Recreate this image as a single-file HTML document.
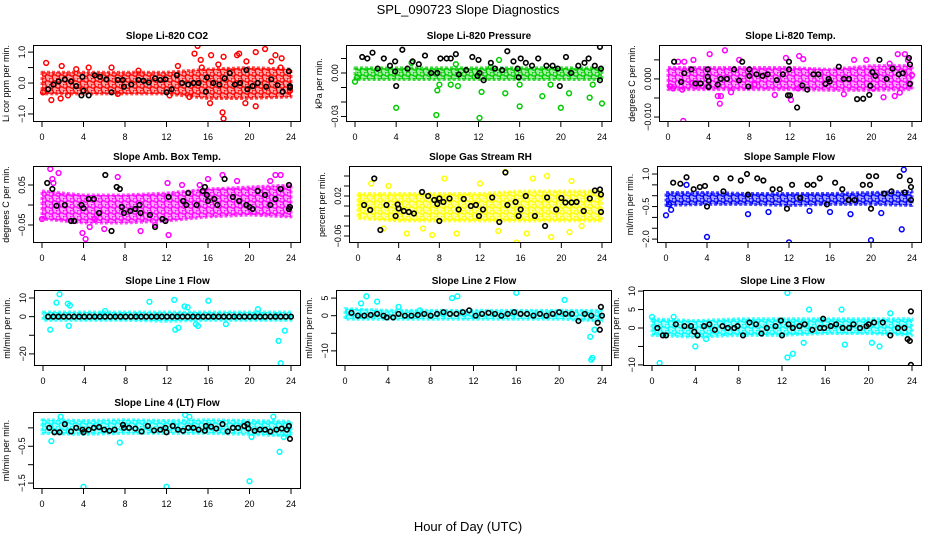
<!DOCTYPE html>
<html><head><meta charset="utf-8">
<style>
html,body{margin:0;padding:0;background:#fff;}
svg{display:block;font-family:"Liberation Sans",sans-serif;}
</style></head>
<body>
<svg id="chart" width="936" height="540" viewBox="0 0 936 540">
<defs id="defs"></defs>
<text x="468" y="14" text-anchor="middle" font-size="13">SPL_090723  Slope Diagnostics</text>
<text x="468" y="531" text-anchor="middle" font-size="13">Hour of Day (UTC)</text>
</svg>
<script>
const xTicks = [0,4,8,12,16,20,24];
const bandHours = [0,4,8,12,16,20,24];

const co2Band = [[-0.35,0.35],[-0.35,0.35],[-0.35,0.35],[-0.35,0.35],[-0.5,0.45],[-0.5,0.5],[-0.45,0.45]];
const co2Out = [[0.4,0.65],[0.9,-0.55],[1.8,-0.5],[1.9,0.55],[3.3,0.45],[4.5,0.5],[6.7,0.5],[9.3,0.4],[13.1,0.55],[14.2,-0.45],[14.7,0.95],[15,1.2],[15.3,0.75],[15.4,0.5],[16.2,-0.65],[16.3,0.9],[17,0.6],[17.4,-0.95],[17.5,-1.15],[17.5,0.85],[18.8,0.9],[19,0.95],[19.6,-0.65],[19.7,0.7],[20.6,-0.75],[20.6,1.0],[21.5,1.1],[22.1,0.7],[22.5,0.9],[23.1,0.8],[23,0.5],[23.9,-0.25],[12.3,-0.4],[7.3,-0.35],[2.5,-0.4],[0.1,-0.3]];
const co2Blk = [[0.6,-0.2],[1.1,-0.05],[1.6,0.05],[2.2,0.12],[2.8,0.05],[3.3,-0.1],[3.8,-0.4],[3.9,0.2],[4,-0.25],[4.5,-0.4],[5.1,0.25],[5.6,0.2],[6.2,0.12],[6.7,-0.3],[7.3,0.1],[7.8,0.1],[7.9,-0.12],[8.6,-0.05],[9.3,0.1],[9.8,0.07],[10.3,0.02],[10.9,0.15],[11.4,0.1],[11.9,0.12],[12,-0.3],[12.5,-0.2],[13,0.25],[13.5,0],[14.1,-0.05],[14.6,0],[15.1,0],[15.8,-0.28],[15.9,0.18],[16.5,0],[17.1,-0.05],[17.6,0.15],[18.1,0.32],[18.6,-0.05],[19.1,0],[19.7,0.42],[19.8,-0.2],[20.3,-0.1],[20.8,0],[21.6,-0.12],[22.1,0.12],[22.7,-0.07],[23.2,-0.28],[23.8,0.38],[23.9,-0.1],[23.9,-0.15]];

const presBand = [[-0.0045,0.0035],[-0.0045,0.0035],[-0.0045,0.0035],[-0.0045,0.0035],[-0.0045,0.0035],[-0.0045,0.0035],[-0.0045,0.0035]];
const presOut = [[0,-0.006],[0.2,-0.003],[4,-0.024],[7.9,-0.029],[8,-0.012],[8.2,-0.008],[9.3,-0.008],[10,-0.009],[12.1,-0.031],[12.3,-0.013],[14.6,-0.014],[16,-0.023],[16,-0.008],[18.2,-0.016],[19,-0.008],[20,-0.024],[20.8,-0.014],[22.8,-0.017],[23.1,-0.008],[24,-0.021],[5.5,0.007],[9.8,0.006],[14,0.009],[13.2,0.004]];
const presBlk = [[0.7,0.011],[1.2,0.01],[1.7,0.014],[2.2,0.003],[2.8,0.01],[3.4,0.005],[3.9,0.008],[3.9,0.001],[4,-0.009],[4.6,0.016],[5.1,0.003],[5.6,0.008],[6.2,0.006],[6.8,0.012],[7.4,0],[8,0],[8.3,0.01],[8.9,0.01],[9.3,0.01],[9.8,0.013],[10.1,-0.001],[10.8,0.002],[11.4,0.011],[11.9,-0.002],[12,0.009],[12.1,0],[12.5,-0.005],[13.2,0.007],[13.6,0.003],[14.3,0.002],[14.8,0.015],[15.4,0.008],[15.8,0.003],[15.9,-0.003],[16.1,0.01],[16.6,0.007],[17.2,0.005],[17.8,0.01],[18.6,0.005],[19.2,0.005],[19.7,0.003],[19.9,-0.009],[20.5,0.011],[21,0],[21.7,0.005],[22.3,0.007],[22.7,0.01],[23.3,0.005],[23.8,0.018],[23.8,-0.005],[23.9,0.003]];

const tempBand = [[-0.0028,0.003],[-0.0028,0.003],[-0.0028,0.003],[-0.0028,0.003],[-0.003,0.0025],[-0.003,0.0035],[-0.0028,0.0035]];
const tempOut = [[0.2,-0.002],[0.5,-0.0025],[1,0.0045],[1.4,-0.0028],[1.5,-0.011],[1.6,0.0045],[2.4,-0.001],[2.5,0.005],[3.9,-0.002],[4.1,0.0065],[4.9,-0.0045],[5.2,-0.0045],[5.1,-0.0065],[5.6,0.0075],[6.2,-0.0035],[7,0.005],[8.5,-0.0015],[10.5,-0.0042],[11.6,0.0055],[12.1,-0.0055],[12.8,-0.0025],[12.9,0.006],[13.3,0.0052],[17.3,-0.004],[18.3,0.005],[19.5,0.005],[20.2,-0.0025],[21.2,-0.0048],[21.8,0.004],[22.3,-0.0045],[22.6,0.0065],[22.8,-0.0036],[23.3,0.0065],[23.6,0.005],[24,0.001]];
const tempBlk = [[0.6,0.0045],[1.3,-0.0008],[1.6,0.0015],[2.3,0.0025],[2.7,-0.0012],[3.2,-0.0012],[3.9,0.0025],[3.9,0.0006],[4,-0.0005],[4,-0.0021],[4.9,-0.0015],[5.2,0],[5.8,0],[6.5,0.0025],[7,-0.0004],[7.3,0.0045],[7.9,-0.002],[8,0.0025],[8,0.0008],[8.7,0.0012],[9.3,0.0008],[9.8,0.0012],[10.7,-0.0003],[11.3,0.0012],[11.9,0.0045],[11.9,0.0025],[11.8,-0.0043],[12,-0.0043],[12.7,-0.0075],[13.2,-0.0017],[13.7,-0.0028],[14.3,0.0012],[14.8,0.0012],[15.5,-0.0013],[15.8,0],[15.9,-0.0007],[16.8,0.0032],[17.3,0],[17.8,0],[18.6,-0.0053],[19.2,-0.0052],[19.8,-0.0042],[19.9,-0.0018],[20.1,0.0018],[20.4,0.0008],[20.8,0.005],[21.5,0],[22.1,0.0027],[22.7,0.0012],[23.1,0.0015],[23.7,0.0055],[23.8,0.0038],[23.8,-0.0013]];

const ambBand = [[-0.035,0.035],[-0.045,0.025],[-0.045,0.025],[-0.04,0.03],[-0.03,0.04],[-0.025,0.045],[-0.03,0.05]];
const ambOut = [[0,-0.035],[0.8,0.09],[1,0.065],[1.1,0.055],[1.6,0.08],[3.9,-0.07],[4.2,-0.085],[4.6,-0.055],[6,-0.06],[7.3,0.07],[9.5,-0.065],[10.9,-0.05],[12.2,-0.075],[12.1,0.055],[15.2,0.05],[16,0.065],[17.4,0.075],[18.8,0.06],[22,0.06],[22.5,0.075],[23,0.075],[5.1,-0.035],[13.5,0.05]];
const ambBlk = [[0.5,0.055],[1,0.04],[1.4,-0.002],[2.2,0],[2.8,-0.04],[3.1,-0.04],[3.8,0],[4,-0.008],[4.5,0.015],[5,0.015],[5.5,-0.02],[6.1,0.075],[6.7,-0.065],[7.2,0.045],[7.5,0.04],[7.7,-0.005],[7.9,-0.02],[8.5,-0.015],[9,-0.01],[9.4,0],[9.5,-0.02],[10.4,-0.025],[10.9,-0.055],[11.6,-0.035],[11.9,-0.04],[12.2,0.02],[13.6,0.01],[13.9,0],[14.1,0.03],[14.9,0],[15.5,0.035],[15.7,0.045],[15.9,0.025],[16,0.01],[16.6,0.015],[16.9,0],[17.6,0.065],[18.4,0.02],[19,0.01],[19.7,0],[20,-0.005],[20.3,-0.01],[20.8,0.035],[21.5,0.025],[22,0],[22.5,0.015],[23,0.04],[23.8,0.05],[23.8,-0.01],[23.9,-0.005]];

const rhBand = [[-0.025,0.025],[-0.03,0.025],[-0.03,0.025],[-0.03,0.025],[-0.03,0.03],[-0.03,0.03],[-0.03,0.03]];
const rhOut = [[14.5,0.068],[15.6,-0.073],[13.8,-0.05],[1.3,0.045],[18.6,0.06],[17.2,0.055],[8.5,0.055],[4.8,-0.055],[9.7,-0.055],[20.8,-0.052],[22,-0.04],[6.4,-0.045],[16.6,-0.055],[2.5,-0.045],[7.3,-0.058],[21,0.05],[19,-0.062],[12,0.045],[3,0.04]];
const rhBlk = [[0.6,0.002],[1.2,-0.008],[1.6,0.055],[2.2,-0.048],[2.8,0.002],[3.7,-0.02],[3.9,0.003],[4,-0.005],[4.5,-0.01],[5,-0.012],[5.5,-0.015],[6.3,0.028],[6.9,0.02],[7.5,0.012],[7.8,0.004],[8,-0.03],[8,0.015],[8.4,0.008],[9,0.015],[9.9,-0.007],[10.4,0.014],[11.1,0],[11.6,0.002],[11.9,-0.02],[12.3,-0.007],[13.2,0.017],[13.9,-0.032],[14.5,0.067],[14.7,0.002],[15.5,0.008],[15.8,-0.02],[16,-0.007],[16.5,0.02],[17.4,-0.02],[18.4,-0.04],[18.6,0.017],[19.5,-0.007],[20,0.016],[20.4,0.007],[21,0.007],[21.5,0.008],[22.2,-0.01],[22.8,0.015],[23.3,0.031],[23.8,0.033],[23.9,0.023],[23.9,-0.012]];

const sfBand = [[-0.45,0.15],[-0.4,0.15],[-0.4,0.1],[-0.45,0.1],[-0.4,0.1],[-0.4,0.15],[-0.45,0.2]];
const sfOut = [[0,-0.9],[0.5,-0.65],[4,-1.9],[8,-0.85],[10,-0.75],[12,-2.15],[14,-0.7],[16,-0.75],[18,-0.85],[20,-2.05],[21,-0.8],[23,-1.55],[23.2,1.2],[2,0.5],[0.3,-0.4]];
const sfBlk = [[0.7,0.6],[1.4,0.55],[2,0.85],[2.7,0.3],[3.3,0.4],[3.8,0.45],[4,-0.5],[4.9,0.8],[5.6,0.2],[6.3,0.8],[7.3,0.7],[8,0.05],[7.9,1.0],[8.9,0.8],[9.5,0.7],[10.4,0.3],[11.1,0.3],[11.8,-0.6],[12.3,0.5],[13.1,-0.1],[13.8,0.5],[14.4,0.5],[15,0.8],[15.7,-0.4],[16.5,0.6],[17.2,0.3],[17.8,-0.2],[18.4,-0.2],[19.2,0.5],[19.8,0.9],[19.9,0.5],[20,-0.6],[20.5,0.9],[21.3,0.1],[22,0.2],[22.8,0.9],[23.3,0.15],[23.8,0.7],[23.9,0.4],[23.9,-0.2]];

const l1Band = [[-2,2.5],[-2,2.5],[-2,2.5],[-2.5,2.5],[-2,2.5],[-2,2.5],[-2,2.5]];
const l1Out = [[1.6,12],[2.5,-5],[1.3,7.5],[2.4,7],[2.6,6],[10.3,8],[12.7,9],[12.8,-7],[13.1,-6],[13.7,5.5],[14,5],[14.8,-4],[16,8.5],[20.8,4],[22.8,-13],[23,-25],[23.4,-7.5],[0.7,-7],[6,3],[15,-5],[17.7,-4]];
const l1Blk = [[0.5,0],[1,0],[1.5,0],[2,0],[2.5,0],[3,0],[3.5,0],[4,0],[4.5,0],[5,0],[5.5,0],[6,0],[6.5,0],[7,0],[7.5,0],[8,0],[8.5,0],[9,0],[9.5,0],[10,0],[10.5,0],[11,0],[11.5,0],[12,0],[12.5,0],[13,0],[13.5,0],[14,0],[14.5,0],[15,0],[15.5,0],[16,0],[16.5,0],[17,0],[17.5,0],[18,0],[18.5,0],[19,0],[19.5,0],[20,0],[20.5,0],[21,0],[21.5,0],[22,0],[22.5,0],[23,0],[23.5,0],[24,0]];

const l2Band = [[-1,2],[-1,1.5],[-1,1.5],[-1,1.5],[-1,1.5],[-1,1.5],[-1.5,1.5]];
const l2Out = [[1.5,3.5],[2,5.5],[3,4],[10,5],[10.5,5.5],[16,6.5],[20.5,4.5],[22.9,-6],[23,-12.5],[23.1,-12],[23.3,-4],[5,2.5],[7,1.5]];
const l2Blk = [[0.6,0.8],[1.2,0],[1.8,0],[2.4,0.2],[3,0.5],[3.6,0],[3.9,-0.5],[4.5,-0.5],[5,0.5],[5.6,0],[6.2,0],[6.8,0.2],[7.4,0.5],[8,0],[8.6,0.5],[9.2,1],[9.8,0.5],[10.4,0.5],[11,1],[11.6,1.5],[12.2,0],[12.8,0.5],[13.4,0.8],[14,0.5],[14.6,0],[15.2,0.5],[15.8,1],[16.4,0.5],[17,0.5],[17.6,0],[18.2,0.5],[18.8,0],[19.4,0.5],[20,1],[20.6,0.5],[21.2,0.5],[21.8,-1.5],[22.4,0.5],[23,0],[23.6,-2],[23.8,-4],[23.9,2.5],[24,0]];

const l3Band = [[-2,2.5],[-2.5,2],[-2,2.5],[-2,2.5],[-1.5,2.5],[-1.5,2.5],[-2,2.5]];
const l3Out = [[0.7,-9.5],[4,-5],[5,-3],[12.5,9.5],[12.5,-8],[13,-7],[14.5,5],[14,-4],[17.5,5],[17.8,-4.5],[20.3,-4],[21,-5],[22,4],[0,3],[2,3]];
const l3Blk = [[0.5,0],[1,-2],[1.3,-2],[2.2,1],[3,0.5],[3.6,0.5],[3.9,-1],[4.2,-2],[4.8,0.5],[5.3,1],[5.8,-0.5],[6.5,0.5],[7,0],[7.6,0],[7.9,0.5],[8.4,-2],[9,1.5],[9.6,1],[10.1,-1.5],[10.6,0],[11.4,0.5],[11.9,2],[12,-2],[12.6,1],[13,0],[13.6,0.5],[14.1,1],[14.8,-0.5],[15.5,0],[15.8,2.5],[15.9,0],[16.5,0.5],[17,1],[17.6,0],[18.2,0],[18.6,1],[19.2,0],[19.8,0.5],[20,1],[20.5,1.5],[21.3,1.5],[22,-2],[22.7,0],[23.3,0],[23.6,-3],[23.8,-3.5],[23.9,-10],[23.9,4.5]];

const l4Band = [[-0.15,0.22],[-0.18,0.2],[-0.15,0.22],[-0.15,0.2],[-0.15,0.22],[-0.18,0.2],[-0.22,0.18]];
const l4Out = [[0.9,-0.36],[4,-1.6],[7.5,-0.4],[12,-1.6],[20,-1.45],[20.2,-0.25],[22.9,-0.65],[22.3,0.3],[14.2,0.3],[13.8,0.35],[1.8,0.3],[23.3,-0.25]];
const l4Blk = [[0.7,0],[1.2,-0.12],[1.7,-0.12],[2.2,0.1],[2.8,-0.1],[3.3,0],[3.9,-0.05],[4,-0.12],[4.5,-0.05],[5,0],[5.5,0.02],[6,-0.05],[6.5,-0.08],[7,-0.05],[7.8,0.08],[7.9,0],[8.4,0],[9,-0.02],[9.6,-0.1],[10.2,0.05],[10.8,-0.07],[11.4,-0.05],[11.9,0],[12,-0.12],[12.6,0.05],[13.1,-0.05],[13.6,-0.08],[14.1,0],[14.6,0],[15.1,-0.05],[15.7,-0.08],[15.8,0.05],[16.3,0.03],[16.8,-0.02],[17.4,0.1],[17.9,-0.1],[18.4,0],[18.9,0],[19.5,0.05],[19.8,0.1],[19.9,-0.02],[20.5,-0.08],[21,-0.05],[21.5,-0.05],[22,-0.1],[22.6,-0.05],[23.1,-0.02],[23.6,-0.05],[23.8,0.05],[23.9,-0.3]];

const panels = [
 {name:'co2',title:'Slope Li-820 CO2',ylab:'Li cor ppm per min.',color:'#ff0000',L:33,R:301,T:45,B:122,ymin:-1.26,ymax:1.23,ticks:[-1,-0.5,0,0.5,1],labs:{'-1':'\u22121.0','0':'0.0','1':'1.0'},band:co2Band,out:co2Out,blk:co2Blk},
 {name:'pressure',title:'Slope Li-820 Pressure',ylab:'kPa per min.',color:'#00cc00',L:346,R:612,T:45,B:122,ymin:-0.0338,ymax:0.0193,ticks:[-0.03,-0.02,-0.01,0,0.01],labs:{'-0.03':'\u22120.03','0':'0.00'},band:presBand,out:presOut,blk:presBlk},
 {name:'temp',title:'Slope Li-820 Temp.',ylab:'degrees C per min.',color:'#ff00ff',L:659,R:922,T:45,B:122,ymin:-0.0113,ymax:0.0089,ticks:[-0.01,-0.005,0,0.005],labs:{'-0.01':'\u22120.010','0':'0.000'},band:tempBand,out:tempOut,blk:tempBlk},
 {name:'amb-box-temp',title:'Slope Amb. Box Temp.',ylab:'degrees C per min.',color:'#ff00ff',L:33,R:301,T:166,B:243,ymin:-0.095,ymax:0.0975,ticks:[-0.05,0,0.05],labs:{'-0.05':'\u22120.05','0.05':'0.05'},band:ambBand,out:ambOut,blk:ambBlk},
 {name:'gas-stream-rh',title:'Slope Gas Stream RH',ylab:'percent per min.',color:'#ffff00',L:349,R:612,T:166,B:243,ymin:-0.074,ymax:0.08,ticks:[-0.06,-0.04,-0.02,0,0.02,0.04,0.06],labs:{'-0.06':'\u22120.06','0.02':'0.02'},band:rhBand,out:rhOut,blk:rhBlk},
 {name:'sample-flow',title:'Slope Sample Flow',ylab:'ml/min per min.',color:'#0000ff',L:657,R:922,T:166,B:243,ymin:-2.18,ymax:1.37,ticks:[-2,-1.5,-1,-0.5,0,0.5,1],labs:{'-2':'\u22122.0','-0.5':'\u22120.5','1':'1.0'},band:sfBand,out:sfOut,blk:sfBlk},
 {name:'line1-flow',title:'Slope Line 1 Flow',ylab:'ml/min per min.',color:'#00ffff',L:34,R:301,T:290,B:366,ymin:-26.5,ymax:14.3,ticks:[-20,-10,0,10],labs:{'-20':'\u221220','0':'0','10':'10'},band:l1Band,out:l1Out,blk:l1Blk},
 {name:'line2-flow',title:'Slope Line 2 Flow',ylab:'ml/min per min.',color:'#00ffff',L:336,R:612,T:290,B:366,ymin:-14.3,ymax:7.3,ticks:[-10,-5,0,5],labs:{'-10':'\u221210','0':'0','5':'5'},band:l2Band,out:l2Out,blk:l2Blk},
 {name:'line3-flow',title:'Slope Line 3 Flow',ylab:'ml/min per min.',color:'#00ffff',L:643,R:922,T:290,B:366,ymin:-10.3,ymax:10.3,ticks:[-10,-5,0,5,10],labs:{'-10':'\u221210','0':'0','5':'5','10':'10'},band:l3Band,out:l3Out,blk:l3Blk},
 {name:'line4-flow',title:'Slope Line 4 (LT) Flow',ylab:'ml/min per min.',color:'#00ffff',L:33,R:301,T:412,B:489,ymin:-1.66,ymax:0.43,ticks:[-1.5,-1,-0.5,0],labs:{'-1.5':'\u22121.5','-0.5':'\u22120.5'},band:l4Band,out:l4Out,blk:l4Blk}
];

const NS='http://www.w3.org/2000/svg';
const svg=document.getElementById('chart');
const defs=document.getElementById('defs');
function mk(tag,attrs,parent){const e=document.createElementNS(NS,tag);for(const k in attrs)e.setAttribute(k,attrs[k]);(parent||svg).appendChild(e);return e;}

panels.forEach(p=>{
  // textured "cloud" pattern of hollow circles
  const pat=mk('pattern',{id:'pat-'+p.name,width:7,height:6,patternUnits:'userSpaceOnUse'},defs);
  mk('rect',{x:0,y:0,width:7,height:6,fill:p.color,'fill-opacity':'0.35'},pat);
  mk('circle',{cx:2,cy:2,r:2.2,fill:'none',stroke:p.color,'stroke-width':'1.4'},pat);
  mk('circle',{cx:5.5,cy:5,r:2.2,fill:'none',stroke:p.color,'stroke-width':'1.4'},pat);

  const g=mk('g',{});
  
  
  const x0=p.L+9,x1=p.R-10;
  const xs=h=>x0+(x1-x0)*h/24;
  const ys=v=>p.B-(v-p.ymin)/(p.ymax-p.ymin)*(p.B-p.T);
  const cx=(p.L+p.R)/2;
  const t=mk('text',{x:cx,y:p.T-6,'text-anchor':'middle','font-size':'10','font-weight':'bold'},g);
  t.textContent=p.title;
  
  
  const clip=mk('clipPath',{id:'c-'+p.name},g);
  mk('rect',{x:p.L,y:p.T,width:p.R-p.L,height:p.B-p.T},clip);
  const pg=mk('g',{'clip-path':'url(#c-'+p.name+')'},g);
  let pts=bandHours.map((h,i)=>xs(h)+','+ys(p.band[i][1]));
  pts=pts.concat(bandHours.map((h,i)=>xs(h)+','+ys(p.band[i][0])).reverse());
  const bp=mk('polygon',{points:pts.join(' '),fill:'url(#pat-'+p.name+')',stroke:p.color,'stroke-width':'3','stroke-opacity':'0.7','stroke-dasharray':'3 2','stroke-linejoin':'round'},pg);
  
  
  p.out.forEach(d=>{
    const c=mk('circle',{cx:xs(d[0]),cy:ys(d[1]),r:2.4,fill:'none',stroke:p.color,'stroke-width':'1.5'},pg);
    
    
  });
  p.blk.forEach(d=>{
    const c=mk('circle',{cx:xs(d[0]),cy:ys(d[1]),r:2.3,fill:'none',stroke:'#000','stroke-width':'1.6'},pg);
    
    
  });
  const box=mk('rect',{x:p.L+0.5,y:p.T+0.5,width:p.R-p.L-1,height:p.B-p.T-1,fill:'none',stroke:'#000','stroke-width':'1'},g);
  
  
  xTicks.forEach(h=>{
    mk('line',{x1:xs(h),x2:xs(h),y1:p.B,y2:p.B+5,stroke:'#000','stroke-width':'1'},g);
    const lt=mk('text',{x:xs(h),y:p.B+18,'text-anchor':'middle','font-size':'9'},g);
    lt.textContent=h;
    
    
  });
  p.ticks.forEach(v=>{
    const y=ys(v);
    mk('line',{x1:p.L-5,x2:p.L,y1:y,y2:y,stroke:'#000','stroke-width':'1'},g);
    const key=String(v);
    if(p.labs[key]!==undefined){
      const lt=mk('text',{x:0,y:0,'text-anchor':'middle','font-size':'9',transform:'translate('+(p.L-8)+','+y+') rotate(-90)'},g);
      lt.textContent=p.labs[key];
      
      
    }
  });
  const yl=mk('text',{x:0,y:0,'text-anchor':'middle','font-size':'9',transform:'translate('+(p.L-24)+','+((p.T+p.B)/2)+') rotate(-90)'},g);
  yl.textContent=p.ylab;
  
  
});
</script>
</body></html>
